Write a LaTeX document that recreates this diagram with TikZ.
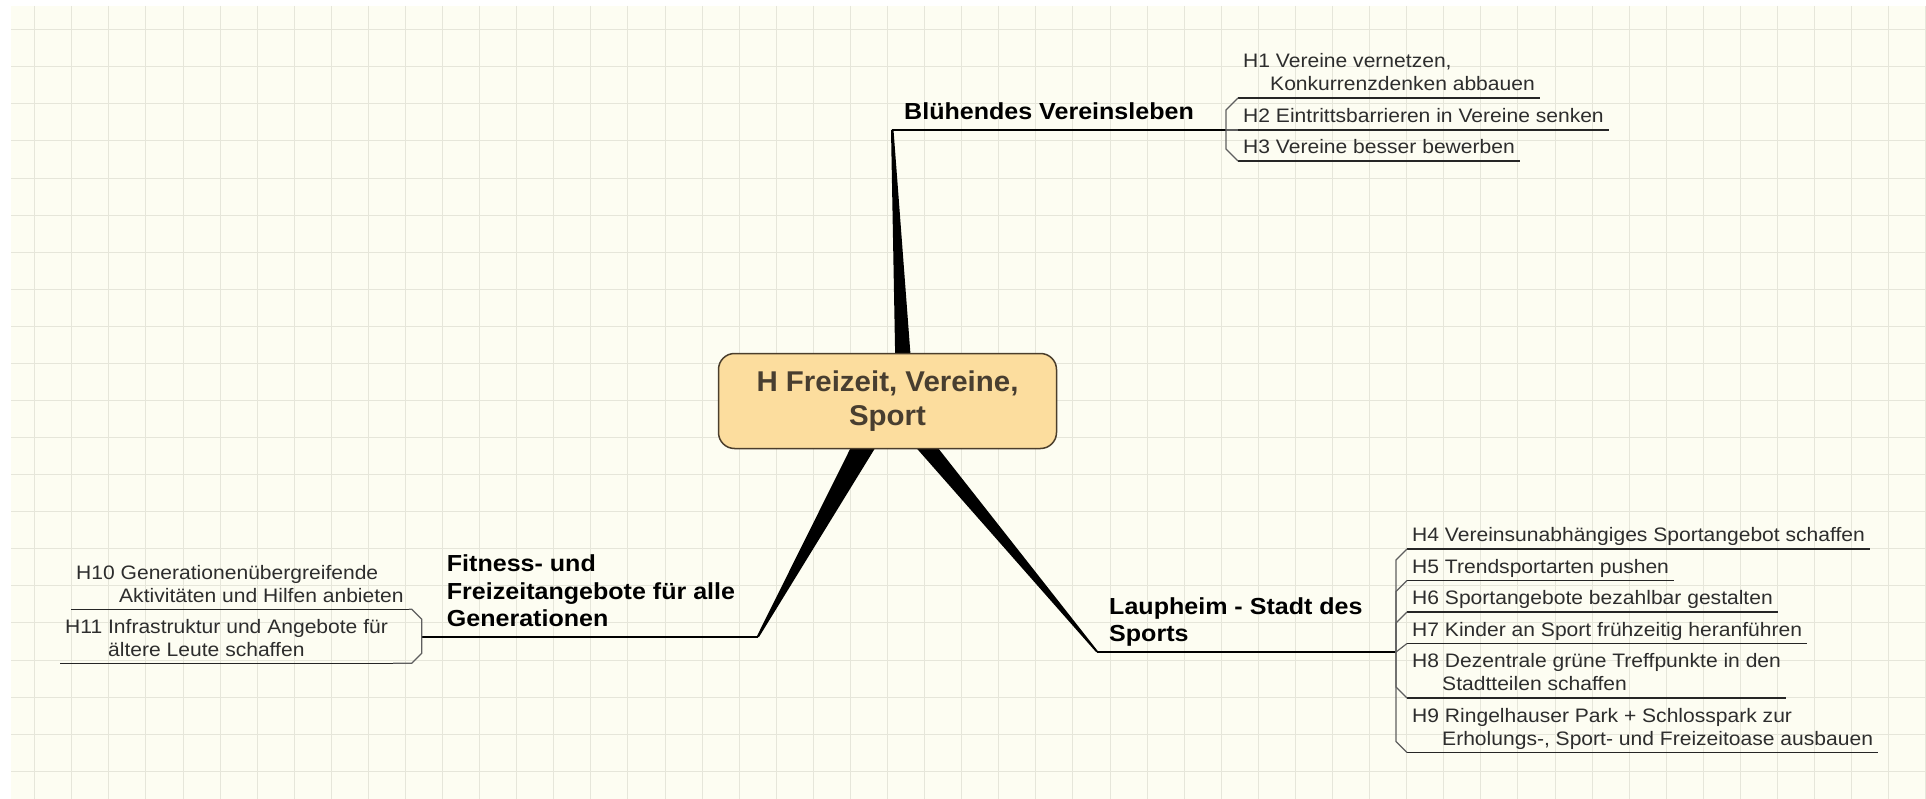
\documentclass[tikz,border=0pt]{standalone}
\usepackage{fontspec}
\setmainfont{Liberation Sans}[FakeStretch=1.08]
\newfontfamily\hubfont{Liberation Sans}[FakeStretch=1.03]
\usetikzlibrary{backgrounds}

\definecolor{paper}{RGB}{253,253,242}
\definecolor{gridline}{RGB}{230,230,218}
\definecolor{hubfill}{RGB}{252,221,158}
\definecolor{hubline}{RGB}{75,62,44}
\definecolor{hubtext}{RGB}{72,62,48}
\definecolor{ideatext}{RGB}{45,45,45}
\definecolor{branchline}{RGB}{95,95,95}

\newcommand{\tlines}[1]{\begin{tabular}[b]{@{}l@{}}#1\end{tabular}}

\pgfdeclarelayer{sheet}
\pgfsetlayers{sheet,background,main}

\begin{document}
\begin{tikzpicture}[
  x=1pt, y=-1pt,
  hub/.style={draw=hubline, line width=1.5pt, fill=hubfill, rounded corners=16pt,
              minimum width=338pt, minimum height=95pt, align=center, text=hubtext,
              font=\hubfont\bfseries\fontsize{28.6}{34}\selectfont},
  topic/.style={anchor=south west, inner xsep=12pt, inner ysep=2pt, text=black,
                font=\bfseries\fontsize{23.2}{27.5}\selectfont},
  idea/.style={anchor=south west, inner xsep=5pt, inner ysep=0pt, text=ideatext,
               font=\fontsize{19.5}{23}\selectfont},
  topicline/.style={line width=1.8pt, black},
  under/.style={line width=1.6pt, black!85},
  branch/.style={line width=1.2pt, branchline},
  spoke/.style={fill=black},
]
\useasboundingbox (0,0) rectangle (1926,799);

% squared paper
\begin{pgfonlayer}{sheet}
  \fill[white] (0,0) rectangle (1926,799);
  \fill[paper] (11,6) rectangle (1926,799);
  \foreach \gx in {0,...,51}
    \draw[gridline, line width=1pt] ({34.7+37.08*\gx},6) -- ({34.7+37.08*\gx},799);
  \foreach \gy in {0,...,20}
    \draw[gridline, line width=1pt] (11,{29.7+37.08*\gy}) -- (1926,{29.7+37.08*\gy});
\end{pgfonlayer}

\node[hub] (hub) at (887.5,401) {H Freizeit, Vereine,\\Sport};

% main topics
\node[topic] (bv) at (892,130) {\tlines{Blühendes Vereinsleben}};
\node[topic] (sd) at (1097,652) {\tlines{Laupheim - Stadt des\\Sports}};
\node[topic] (fg) at (434.7,637) {\tlines{Fitness- und\\Freizeitangebote für alle\\Generationen}};
\coordinate (fgA) at (758,637);
\coordinate (bvj) at (1226,130);
\coordinate (sdj) at (1396,652);
\coordinate (fgj) at (421.7,637);

% subtopics
\node[idea] (h1) at (1238,98) {\tlines{H1 Vereine vernetzen,\\\hspace*{27pt}Konkurrenzdenken abbauen}};
\node[idea] (h2) at (1238,130) {\tlines{H2 Eintrittsbarrieren in Vereine senken}};
\node[idea] (h3) at (1238,161) {\tlines{H3 Vereine besser bewerben}};
\node[idea] (h4) at (1407,549) {\tlines{H4 Vereinsunabhängiges Sportangebot schaffen}};
\node[idea] (h5) at (1407,580.5) {\tlines{H5 Trendsportarten pushen}};
\node[idea] (h6) at (1407,612) {\tlines{H6 Sportangebote bezahlbar gestalten}};
\node[idea] (h7) at (1407,643.5) {\tlines{H7 Kinder an Sport frühzeitig heranführen}};
\node[idea] (h8) at (1407,698) {\tlines{H8 Dezentrale grüne Treffpunkte in den\\\hspace*{30pt}Stadtteilen schaffen}};
\node[idea] (h9) at (1407,752.5) {\tlines{H9 Ringelhauser Park + Schlosspark zur\\\hspace*{30pt}Erholungs-, Sport- und Freizeitoase ausbauen}};
\node[idea] (h10) at (71,609.3) {\tlines{H10 Generationenübergreifende\\\hspace*{43pt}Aktivitäten und Hilfen anbieten}};
\node[idea] (h11) at (60,663.3) {\tlines{H11 Infrastruktur und Angebote für\\\hspace*{43pt}ältere Leute schaffen}};

% underlines
\draw[topicline] (bv.south west) -- (bv.south east) -- (bvj);
\draw[topicline] (sd.south west) -- (sd.south east) -- (sdj);
\draw[topicline] (fgj) -- (fg.south west) -- (fg.south east) -- (fgA);
\foreach \n in {h1,h2,h3,h4,h5,h6,h7,h8,h9,h10,h11}
  \draw[under] (\n.south west) -- (\n.south east);

% brackets
\draw[branch] (bvj) -- (1226,110) -- (h1.south west);
\draw[branch] (bvj) -- (h2.south west);
\draw[branch] (bvj) -- (1226,149) -- (h3.south west);
\draw[branch] (sdj) -- (1396,560) -- (h4.south west);
\draw[branch] (sdj) -- (1396,591.5) -- (h5.south west);
\draw[branch] (sdj) -- (1396,623) -- (h6.south west);
\draw[branch] (sdj) -- (h7.south west);
\draw[branch] (sdj) -- (1396,687) -- (h8.south west);
\draw[branch] (sdj) -- (1396,741.5) -- (h9.south west);
\draw[branch] (fgj) -- (421.7,619.3) -- (411.7,609.3) -- (h10.south east);
\draw[branch] (fgj) -- (421.7,653.3) -- (411.7,663.3) -- (h11.south east);

% tapered spokes from the centre
\begin{scope}[on background layer]
  \fill[spoke] ([xshift=-1pt]bv.south west) -- ([xshift=1.5pt]bv.south west)
    -- ([xshift=26.5pt]hub.center) -- ([xshift=8.5pt]hub.center) -- cycle;
  \fill[spoke] ([xshift=-1pt]sd.south west) -- ([xshift=1.5pt]sd.south west)
    -- ([xshift=13.5pt]hub.center) -- ([xshift=-12.5pt]hub.center) -- cycle;
  \fill[spoke] ([xshift=-1.5pt]fgA) -- ([xshift=1pt]fgA)
    -- ([xshift=16.5pt]hub.center) -- ([xshift=-13.5pt]hub.center) -- cycle;
\end{scope}
\end{tikzpicture}
\end{document}
